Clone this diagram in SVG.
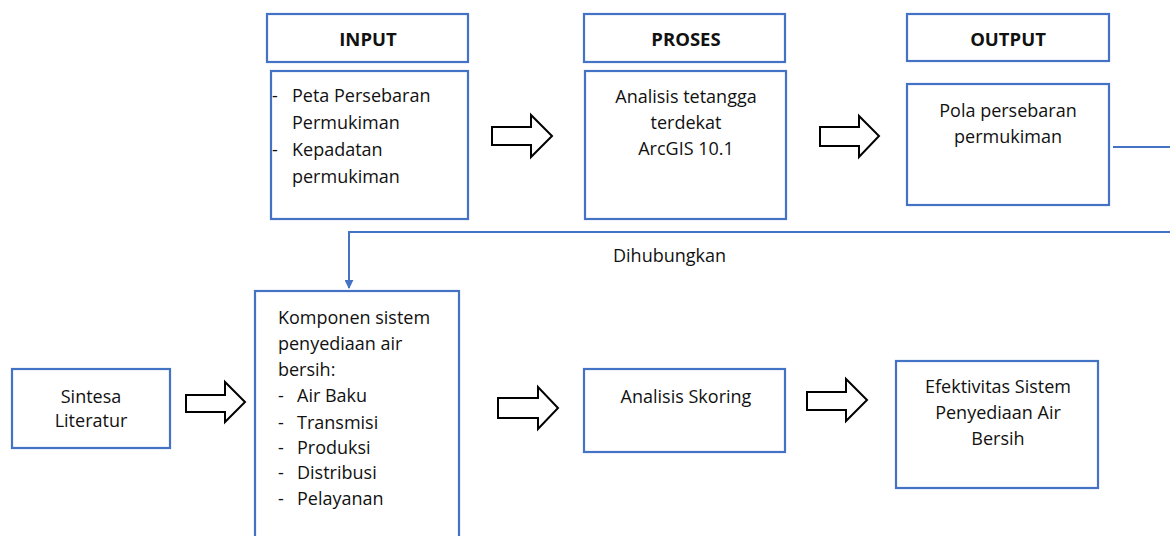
<svg xmlns="http://www.w3.org/2000/svg" width="1170" height="536" viewBox="0 0 1170 536">
<style>
.box{fill:#fff;stroke:#4472C4;stroke-width:2.2}
.blk{fill:#fff;stroke:#000;stroke-width:2}
.t{font-family:"Open Sans","Liberation Sans",sans-serif;font-size:18px;fill:#111}
.c{text-anchor:middle}
.h{font-weight:bold;font-size:18.5px}
.ln{fill:none;stroke:#4472C4;stroke-width:2}
</style>
<defs>
<marker id="ah" viewBox="0 0 10 10" refX="9" refY="5" markerWidth="9" markerHeight="9" markerUnits="userSpaceOnUse" orient="auto">
<path d="M0,0 L10,5 L0,10 z" fill="#4472C4"/>
</marker>
</defs>
<rect width="1170" height="536" fill="#fff"/>

<g id="input-header"><rect class="box" x="267" y="14" width="201" height="48"/><text class="t c h" x="368" y="46">INPUT</text></g>
<g id="input-body"><rect class="box" x="271" y="71" width="197" height="148"/>
<text class="t" x="272" y="102">-</text><text class="t" x="292" y="102">Peta Persebaran</text>
<text class="t" x="292" y="129">Permukiman</text>
<text class="t" x="272" y="156">-</text><text class="t" x="292" y="156">Kepadatan</text>
<text class="t" x="292" y="183">permukiman</text>
</g>

<g id="proses-header"><rect class="box" x="584" y="14" width="201" height="48"/><text class="t c h" x="686" y="46">PROSES</text></g>
<g id="proses-body"><rect class="box" x="585" y="71" width="201" height="148"/>
<text class="t c" x="686" y="103">Analisis tetangga</text>
<text class="t c" x="686" y="129">terdekat</text>
<text class="t c" x="686" y="155">ArcGIS 10.1</text>
</g>

<g id="output-header"><rect class="box" x="907" y="14" width="202" height="47"/><text class="t c h" x="1008" y="46">OUTPUT</text></g>
<g id="output-body"><rect class="box" x="907" y="84" width="202" height="121"/>
<text class="t c" x="1008" y="117">Pola persebaran</text>
<text class="t c" x="1008" y="143">permukiman</text>
</g>

<g id="sintesa"><rect class="box" x="12" y="369" width="158" height="79"/>
<text class="t c" x="91" y="403">Sintesa</text>
<text class="t c" x="91" y="427">Literatur</text>
</g>

<g id="komponen"><rect class="box" x="255" y="291" width="204" height="270"/>
<text class="t" x="278" y="324">Komponen sistem</text>
<text class="t" x="278" y="350">penyediaan air</text>
<text class="t" x="278" y="376">bersih:</text>
<text class="t" x="278" y="402">-</text><text class="t" x="297" y="402">Air Baku</text>
<text class="t" x="278" y="429">-</text><text class="t" x="297" y="429">Transmisi</text>
<text class="t" x="278" y="454">-</text><text class="t" x="297" y="454">Produksi</text>
<text class="t" x="278" y="479">-</text><text class="t" x="297" y="479">Distribusi</text>
<text class="t" x="278" y="505">-</text><text class="t" x="297" y="505">Pelayanan</text>
</g>

<g id="skoring"><rect class="box" x="584" y="369" width="201" height="83"/>
<text class="t c" x="686" y="403">Analisis Skoring</text>
</g>

<g id="efektivitas"><rect class="box" x="896" y="361" width="202" height="127"/>
<text class="t c" x="998" y="393">Efektivitas Sistem</text>
<text class="t c" x="998" y="419">Penyediaan Air</text>
<text class="t c" x="998" y="445">Bersih</text>
</g>

<g id="block-arrows">
<path class="blk" d="M492,127 H531 V115 L552,136 L531,157 V145 H492 Z"/>
<path class="blk" d="M820,127 H859 V116 L879,136 L859,157 V146 H820 Z"/>
<path class="blk" d="M186,395 H225 V382 L245,402 L225,422 V412 H186 Z"/>
<path class="blk" d="M498,398 H538 V387 L558,408 L538,429 V418 H498 Z"/>
<path class="blk" d="M807,392 H846 V379 L867,400 L846,421 V410 H807 Z"/>
</g>

<g id="connectors">
<path class="ln" d="M1113,147 H1170"/>
<path class="ln" d="M1170,232 H349 V288" marker-end="url(#ah)"/>
<text class="t" x="613" y="262">Dihubungkan</text>
</g>
</svg>
